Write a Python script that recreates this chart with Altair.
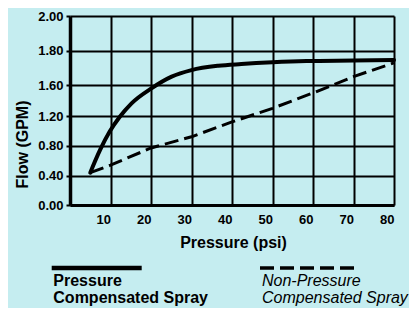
import altair as alt
import pandas as pd

# Pressure-compensated (solid) curve
psi_solid = [5, 7.4, 9.8, 12.3, 15.2, 20.1, 25.1, 30, 36.6, 42.3, 50, 58.4, 70, 80]
flow_solid = [0.44, 0.74, 0.99, 1.19, 1.365, 1.56, 1.65, 1.688, 1.713, 1.723, 1.733, 1.74, 1.743, 1.746]

# Non-pressure-compensated (dashed) line
psi_dash = [5, 10, 20, 30, 40, 50, 60, 70, 80]
flow_dash = [0.44, 0.54, 0.77, 0.92, 1.12, 1.30, 1.50, 1.65, 1.73]

x_ticks = [10, 20, 30, 40, 50, 60, 70, 80]
y_ticks = [0, 0.4, 0.8, 1.2, 1.6, 1.8, 2.0]
y_pixels = [189, 159.7, 129.7, 100, 69.3, 34.7, 0]

FONT = "Liberation Sans"
BG = "#c5edf0"

df_solid = pd.DataFrame({"psi": psi_solid, "flow": flow_solid})
df_dash = pd.DataFrame({"psi": psi_dash, "flow": flow_dash})

x_enc = alt.X(
    "psi:Q",
    scale=alt.Scale(domain=[0, 80], nice=False, zero=False),
    axis=alt.Axis(
        values=x_ticks,
        tickCount=20,
        labelOverlap=False,
        title="Pressure (psi)",
        grid=True,
        gridColor="black",
        gridWidth=2,
        gridOpacity=1,
        domainColor="black",
        domainWidth=3,
        ticks=False,
        labelAlign="right",
        labelBaseline="alphabetic",
        labelPadding=18,
        labelFont=FONT,
        labelFontSize=13,
        labelFontWeight="bold",
        labelColor="black",
        titleFont=FONT,
        titleFontSize=16,
        titleFontWeight="bold",
        titleColor="black",
        titleBaseline="alphabetic",
        titleX=163,
        titleY=42,
    ),
)

y_enc = alt.Y(
    "flow:Q",
    scale=alt.Scale(domain=y_ticks, range=y_pixels, nice=False, zero=False),
    axis=alt.Axis(
        values=y_ticks,
        tickCount=20,
        labelOverlap=False,
        format=".2f",
        title="Flow (GPM)",
        grid=True,
        gridColor="black",
        gridWidth=2,
        gridOpacity=1,
        domainColor="black",
        domainWidth=3.5,
        tickColor="black",
        tickWidth=2,
        tickSize=4,
        labelPadding=3,
        labelFont=FONT,
        labelFontSize=13,
        labelFontWeight="bold",
        labelColor="black",
        titleFont=FONT,
        titleFontSize=16,
        titleFontWeight="bold",
        titleColor="black",
        titleAngle=-90,
        titleAlign="center",
        titleBaseline="alphabetic",
        titleX=-43,
        titleY=128,
    ),
)

solid = alt.Chart(df_solid).mark_line(
    color="black", strokeWidth=4, interpolate="monotone", strokeCap="round"
).encode(x=x_enc, y=y_enc)

dashed = alt.Chart(df_dash).mark_line(
    color="black", strokeWidth=3, strokeDash=[14, 6]
).encode(x="psi:Q", y="flow:Q")

one = pd.DataFrame({"k": [0]})

leg_solid = alt.Chart(one).mark_rule(color="black", strokeWidth=4.3).encode(
    x=alt.value(-18.3), x2=alt.value(71.7), y=alt.value(252)
)
leg_dash = alt.Chart(one).mark_rule(color="black", strokeWidth=3.3, strokeDash=[14, 6]).encode(
    x=alt.value(190), x2=alt.value(285), y=alt.value(252)
)

def label(text, x, y, bold, italic):
    return alt.Chart(one).mark_text(
        align="left",
        baseline="alphabetic",
        font=FONT,
        fontSize=16,
        fontWeight="bold" if bold else "normal",
        fontStyle="italic" if italic else "normal",
        color="black",
    ).encode(x=alt.value(x), y=alt.value(y), text=alt.value(text))

legend_texts = [
    label("Pressure", -16.7, 270, True, False),
    label("Compensated Spray", -16.7, 287, True, False),
    label("Non-Pressure", 192, 270, False, True),
    label("Compensated Spray", 192, 287, False, True),
]

chart = alt.layer(solid, dashed, leg_solid, leg_dash, *legend_texts).properties(
    width=324,
    height=189,
    autosize=alt.AutoSizeParams(type="none"),
    padding={"left": 62, "top": 8, "right": 15, "bottom": 103},
    background=BG,
).configure_view(stroke=None)

chart.save("out.html", embed_options={"renderer": "svg", "actions": False})
